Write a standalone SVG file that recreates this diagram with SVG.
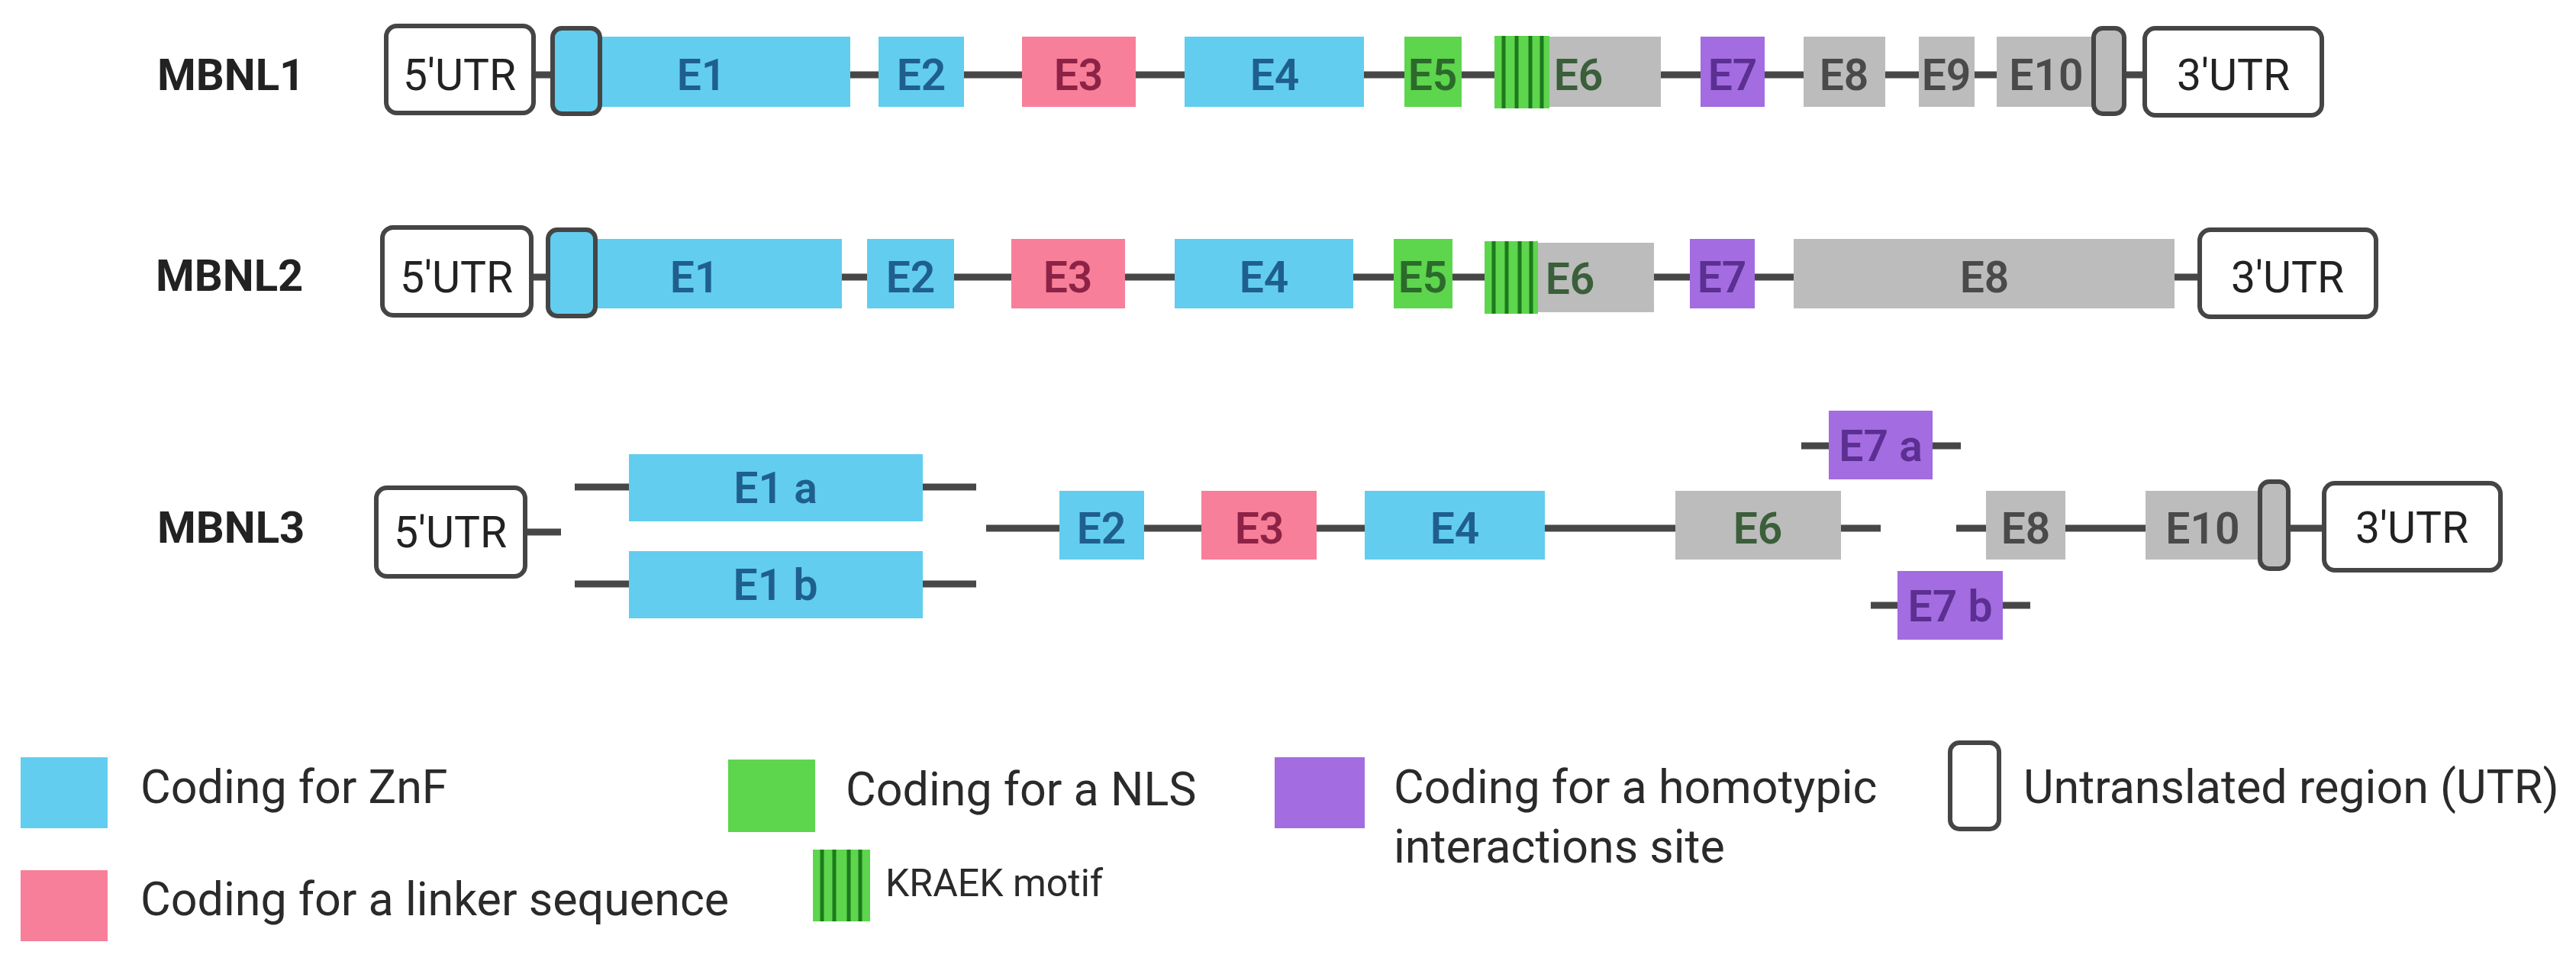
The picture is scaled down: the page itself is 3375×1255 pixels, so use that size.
<svg xmlns="http://www.w3.org/2000/svg" width="3375" height="1255" viewBox="0 0 3375 1255">
<defs>
<style>
.bg{fill:#ffffff}
.ln{stroke:#474747;stroke-width:9;fill:none}
.zn{fill:#62cdef}
.lk{fill:#f87f99}
.nl{fill:#5dd54d}
.hm{fill:#a36ce0}
.gy{fill:#bcbcbc}
.utr{fill:#ffffff;stroke:#454545;stroke-width:6}
.sutrb{fill:#62cdef;stroke:#454545;stroke-width:6}
.sutrg{fill:#bcbcbc;stroke:#454545;stroke-width:6}
.st{stroke:#1d7a1d;stroke-width:5}
.gl{font-family:Roboto,"Liberation Sans",sans-serif;font-weight:bold;font-size:58px;fill:#222222}
.el{font-family:Roboto,"Liberation Sans",sans-serif;font-weight:600;font-size:57px;text-anchor:middle}
.ut{font-family:Roboto,"Liberation Sans",sans-serif;font-size:57px;text-anchor:middle;fill:#222222}
.tb{fill:#1f5f8d}
.tp{fill:#8c2346}
.tg{fill:#2c6a2c}
.t6{fill:#3a5f3a}
.tv{fill:#5c2f92}
.tk{fill:#4a4a4a}
.lg{font-family:Roboto,"Liberation Sans",sans-serif;font-size:61px;fill:#2a2a2a}
.lgs{font-family:Roboto,"Liberation Sans",sans-serif;font-size:50px;fill:#2a2a2a}
</style>
</defs>
<rect class="bg" x="0" y="0" width="3375" height="1255"/>

<!-- connectors (introns) -->
<g id="connectors">
<line class="ln" x1="699" y1="98" x2="2810" y2="98"/>
<line class="ln" x1="696" y1="363" x2="2882" y2="363"/>
<line class="ln" x1="688" y1="697" x2="735" y2="697"/>
<line class="ln" x1="753" y1="638" x2="824" y2="638"/>
<line class="ln" x1="1209" y1="638" x2="1279" y2="638"/>
<line class="ln" x1="753" y1="765" x2="824" y2="765"/>
<line class="ln" x1="1209" y1="765" x2="1279" y2="765"/>
<line class="ln" x1="1292" y1="692" x2="2464" y2="692"/>
<line class="ln" x1="2563" y1="692" x2="3045" y2="692"/>
<line class="ln" x1="2360" y1="584" x2="2569" y2="584"/>
<line class="ln" x1="2451" y1="793" x2="2660" y2="793"/>
</g>

<!-- MBNL1 -->
<g id="mbnl1">
<text class="gl" x="206" y="118">MBNL1</text>
<g id="m1-5utr"><rect class="utr" x="506" y="34" width="193" height="114" rx="14"/><text class="ut" x="602" y="118">5'UTR</text></g>
<g id="m1-e1"><rect class="zn" x="724" y="48" width="390" height="92"/><rect class="sutrb" x="724" y="37" width="62" height="112" rx="12"/><text class="el tb" x="919" y="118">E1</text></g>
<g id="m1-e2"><rect class="zn" x="1151" y="48" width="112" height="92"/><text class="el tb" x="1207" y="118">E2</text></g>
<g id="m1-e3"><rect class="lk" x="1339" y="48" width="149" height="92"/><text class="el tp" x="1413" y="118">E3</text></g>
<g id="m1-e4"><rect class="zn" x="1552" y="48" width="235" height="92"/><text class="el tb" x="1670" y="118">E4</text></g>
<g id="m1-e5"><rect class="nl" x="1840" y="48" width="75" height="92"/><text class="el tg" x="1877" y="118">E5</text></g>
<g id="m1-e6"><rect class="gy" x="1958" y="48" width="218" height="92"/><rect class="nl" x="1958" y="47" width="72" height="95"/>
<line class="st" x1="1970" y1="47" x2="1970" y2="142"/><line class="st" x1="1987" y1="47" x2="1987" y2="142"/><line class="st" x1="2005" y1="47" x2="2005" y2="142"/><line class="st" x1="2020" y1="47" x2="2020" y2="142"/>
<text class="el t6" x="2068" y="118">E6</text></g>
<g id="m1-e7"><rect class="hm" x="2228" y="48" width="84" height="92"/><text class="el tv" x="2270" y="118">E7</text></g>
<g id="m1-e8"><rect class="gy" x="2363" y="48" width="107" height="92"/><text class="el tk" x="2416" y="118">E8</text></g>
<g id="m1-e9"><rect class="gy" x="2514" y="48" width="73" height="92"/><text class="el tk" x="2550" y="118">E9</text></g>
<g id="m1-e10"><rect class="gy" x="2616" y="48" width="167" height="92"/><rect class="sutrg" x="2743" y="37" width="40" height="112" rx="12"/><text class="el tk" x="2681" y="118">E10</text></g>
<g id="m1-3utr"><rect class="utr" x="2810" y="37" width="232" height="114" rx="14"/><text class="ut" x="2926" y="118">3'UTR</text></g>
</g>

<!-- MBNL2 -->
<g id="mbnl2">
<text class="gl" x="204" y="381">MBNL2</text>
<g id="m2-5utr"><rect class="utr" x="501" y="298" width="195" height="115" rx="14"/><text class="ut" x="598" y="383">5'UTR</text></g>
<g id="m2-e1"><rect class="zn" x="718" y="313" width="385" height="91"/><rect class="sutrb" x="718" y="301" width="62" height="113" rx="12"/><text class="el tb" x="910" y="383">E1</text></g>
<g id="m2-e2"><rect class="zn" x="1136" y="313" width="114" height="91"/><text class="el tb" x="1193" y="383">E2</text></g>
<g id="m2-e3"><rect class="lk" x="1325" y="313" width="149" height="91"/><text class="el tp" x="1399" y="383">E3</text></g>
<g id="m2-e4"><rect class="zn" x="1539" y="313" width="234" height="91"/><text class="el tb" x="1656" y="383">E4</text></g>
<g id="m2-e5"><rect class="nl" x="1826" y="313" width="77" height="91"/><text class="el tg" x="1864" y="383">E5</text></g>
<g id="m2-e6"><rect class="gy" x="1945" y="318" width="222" height="91"/><rect class="nl" x="1945" y="316" width="70" height="95"/>
<line class="st" x1="1957" y1="316" x2="1957" y2="411"/><line class="st" x1="1974" y1="316" x2="1974" y2="411"/><line class="st" x1="1991" y1="316" x2="1991" y2="411"/><line class="st" x1="2006" y1="316" x2="2006" y2="411"/>
<text class="el t6" x="2057" y="385">E6</text></g>
<g id="m2-e7"><rect class="hm" x="2214" y="313" width="85" height="91"/><text class="el tv" x="2256" y="383">E7</text></g>
<g id="m2-e8"><rect class="gy" x="2350" y="313" width="499" height="91"/><text class="el tk" x="2600" y="383">E8</text></g>
<g id="m2-3utr"><rect class="utr" x="2882" y="301" width="231" height="114" rx="14"/><text class="ut" x="2997" y="383">3'UTR</text></g>
</g>

<!-- MBNL3 -->
<g id="mbnl3">
<text class="gl" x="206" y="711">MBNL3</text>
<g id="m3-5utr"><rect class="utr" x="493" y="639" width="195" height="116" rx="14"/><text class="ut" x="590" y="717">5'UTR</text></g>
<g id="m3-e1a"><rect class="zn" x="824" y="595" width="385" height="88"/><text class="el tb" x="1016" y="659">E1 a</text></g>
<g id="m3-e1b"><rect class="zn" x="824" y="722" width="385" height="88"/><text class="el tb" x="1016" y="786">E1 b</text></g>
<g id="m3-e2"><rect class="zn" x="1388" y="643" width="111" height="90"/><text class="el tb" x="1443" y="712">E2</text></g>
<g id="m3-e3"><rect class="lk" x="1574" y="643" width="151" height="90"/><text class="el tp" x="1650" y="712">E3</text></g>
<g id="m3-e4"><rect class="zn" x="1788" y="643" width="236" height="90"/><text class="el tb" x="1906" y="712">E4</text></g>
<g id="m3-e6"><rect class="gy" x="2195" y="643" width="217" height="90"/><text class="el t6" x="2303" y="712">E6</text></g>
<g id="m3-e7a"><rect class="hm" x="2396" y="538" width="136" height="90"/><text class="el tv" x="2464" y="604">E7 a</text></g>
<g id="m3-e7b"><rect class="hm" x="2486" y="748" width="138" height="90"/><text class="el tv" x="2555" y="814">E7 b</text></g>
<g id="m3-e8"><rect class="gy" x="2602" y="643" width="104" height="90"/><text class="el tk" x="2654" y="712">E8</text></g>
<g id="m3-e10"><rect class="gy" x="2811" y="643" width="187" height="90"/><rect class="sutrg" x="2961" y="631" width="37" height="114" rx="12"/><text class="el tk" x="2886" y="712">E10</text></g>
<g id="m3-3utr"><rect class="utr" x="3045" y="633" width="231" height="114" rx="14"/><text class="ut" x="3160" y="711">3'UTR</text></g>
</g>

<!-- Legend -->
<g id="legend">
<g id="lg-znf"><rect class="zn" x="27" y="992" width="114" height="93"/><text class="lg" x="184" y="1052">Coding for ZnF</text></g>
<g id="lg-linker"><rect class="lk" x="27" y="1140" width="114" height="93"/><text class="lg" x="184" y="1199">Coding for a linker sequence</text></g>
<g id="lg-nls"><rect class="nl" x="954" y="995" width="114" height="95"/><text class="lg" x="1108" y="1055">Coding for a NLS</text></g>
<g id="lg-kraek"><rect class="nl" x="1065" y="1113" width="75" height="94"/>
<line class="st" x1="1077" y1="1113" x2="1077" y2="1207"/><line class="st" x1="1093" y1="1113" x2="1093" y2="1207"/><line class="st" x1="1112" y1="1113" x2="1112" y2="1207"/><line class="st" x1="1127" y1="1113" x2="1127" y2="1207"/>
<text class="lgs" x="1160" y="1174">KRAEK motif</text></g>
<g id="lg-homo"><rect class="hm" x="1670" y="992" width="118" height="93"/><text class="lg" x="1826" y="1052">Coding for a homotypic</text><text class="lg" x="1826" y="1130">interactions site</text></g>
<g id="lg-utr"><rect class="utr" x="2555" y="973" width="64" height="113" rx="12"/><text class="lg" x="2651" y="1052">Untranslated region (UTR)</text></g>
</g>
</svg>
